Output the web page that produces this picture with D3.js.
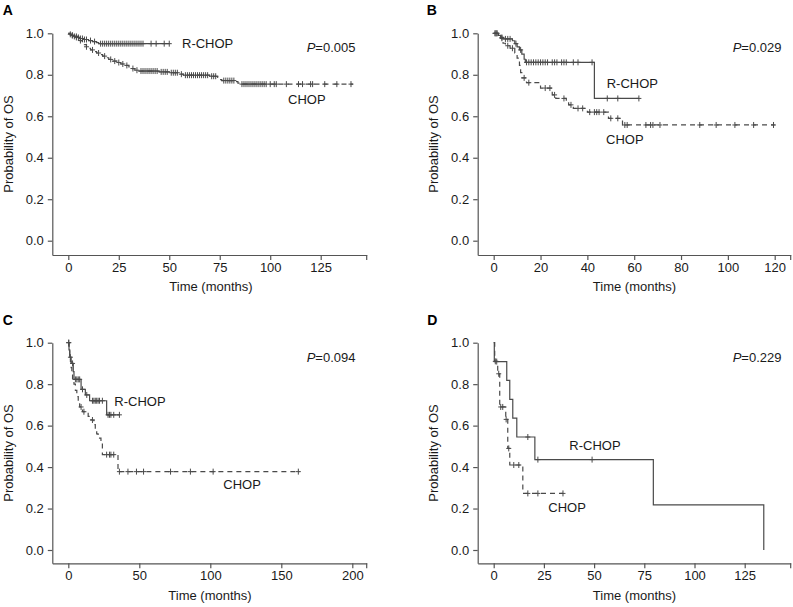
<!DOCTYPE html>
<html>
<head>
<meta charset="utf-8">
<script src="https://cdn.jsdelivr.net/npm/d3@7"></script>
<style>
  html, body { margin: 0; padding: 0; background: #fff; }
  svg { display: block; font-family: Arial, "Liberation Sans", Helvetica, sans-serif; }
</style>
</head>
<body>
<svg id="chart" width="793" height="607"></svg>
<script>
// ---------------- DATA ----------------
const yTickValues = [0, 0.2, 0.4, 0.6, 0.8, 1.0];
const panelLetters = ["A", "B", "C", "D"];
const pValues = ["0.005", "0.029", "0.094", "0.229"];
const xTicksA = [0, 25, 50, 75, 100, 125];
const xTicksB = [0, 20, 40, 60, 80, 100, 120];
const xTicksC = [0, 50, 100, 150, 200];
const xTicksD = [0, 25, 50, 75, 100, 125];
const seriesNames = ["R-CHOP", "CHOP"];

// Panel A
const aRchopTime = [0, 1, 2, 3, 5, 6, 8, 10, 12, 14, 15];
const aRchopSurv = [1, 0.995, 0.99, 0.985, 0.98, 0.975, 0.97, 0.965, 0.96, 0.955, 0.95];
const aRchopEnd = 50;
const aRchopCensor = [1, 2, 3, 4, 5, 6, 7, 8, 9, 11, 13, 16, 17, 18, 19, 20, 21, 22, 23, 24, 25, 26, 27, 28, 29, 30, 31, 32, 33, 34, 35, 36, 37, 41, 43.5, 47.5, 50];
const aChopTime = [0, 1, 2, 3, 4, 5, 6, 7, 8, 9, 10, 11, 13, 14, 16, 17, 19, 20, 22, 24, 26, 28, 30, 31, 33, 35, 45, 50, 55, 57, 70, 74, 75, 76, 83, 84, 85];
const aChopSurv = [1, 0.995, 0.99, 0.985, 0.98, 0.972, 0.965, 0.955, 0.945, 0.935, 0.928, 0.92, 0.912, 0.905, 0.897, 0.89, 0.882, 0.874, 0.866, 0.859, 0.852, 0.845, 0.838, 0.83, 0.822, 0.818, 0.814, 0.81, 0.803, 0.798, 0.793, 0.787, 0.777, 0.772, 0.767, 0.76, 0.755];
const aChopEnd = 141;
const aChopCensor = [2, 4, 6, 9, 12, 15, 18, 21, 23, 25, 27, 29, 32, 34, 36, 37, 38, 39, 40, 41, 42, 43, 44, 46, 47, 48, 49, 51, 52, 53, 54, 56, 58, 59, 60, 61, 62, 63, 64, 65, 66, 67, 68, 69, 71, 72, 73, 77, 78, 79, 80, 81, 82, 86, 87, 88, 89, 90, 91, 92, 93, 94, 95, 96, 97, 98, 100, 102, 103, 108, 114, 116, 120, 121, 127, 133, 140];

// Panel B
const bRchopTime = [0, 2, 3, 4, 8, 9, 10, 11, 12, 13, 13.5, 43];
const bRchopSurv = [1, 0.99, 0.98, 0.973, 0.964, 0.95, 0.935, 0.92, 0.9, 0.875, 0.86, 0.686];
const bRchopEnd = 62;
const bRchopCensor = [0.5, 1, 1.5, 3.5, 5, 6, 7, 9.5, 11.5, 14, 15, 16, 17, 18, 19, 20, 21, 22, 23, 25, 26, 27, 29, 30, 31, 34, 36, 42, 48.5, 53, 62];
const bChopTime = [0, 2, 3, 4, 5, 7, 9, 10, 11, 11.5, 12, 14, 20, 25, 26.5, 31, 32, 34, 40, 49, 55];
const bChopSurv = [1, 0.988, 0.976, 0.952, 0.94, 0.928, 0.905, 0.88, 0.845, 0.81, 0.785, 0.762, 0.736, 0.703, 0.686, 0.67, 0.655, 0.638, 0.62, 0.59, 0.558];
const bChopEnd = 120;
const bChopCensor = [1, 3.5, 6, 8, 13, 15, 22, 24, 26, 30, 33, 36, 38, 41, 43, 44, 45, 47, 50, 53, 56, 57, 65, 67, 68, 71, 88, 95, 103, 111, 119.5];

// Panel C
const cRchopTime = [0, 0.5, 1, 2, 3.5, 4, 9, 12, 15, 27];
const cRchopSurv = [1, 0.965, 0.93, 0.9, 0.86, 0.823, 0.775, 0.748, 0.72, 0.652];
const cRchopEnd = 36;
const cRchopCensor = [0.3, 1.5, 3, 5, 6, 7, 8, 10, 13, 17, 18, 19, 20, 21, 22, 24, 28, 29, 30, 32, 36];
const cChopTime = [0, 0.5, 1, 1.5, 2, 2.5, 3, 4, 5, 6, 7, 8, 10, 14, 16, 18, 19, 20, 21, 23, 24, 35];
const cChopSurv = [1, 0.97, 0.94, 0.91, 0.88, 0.85, 0.82, 0.8, 0.77, 0.74, 0.715, 0.69, 0.667, 0.645, 0.627, 0.605, 0.58, 0.56, 0.54, 0.52, 0.46, 0.378];
const cChopEnd = 163;
const cChopCensor = [0.3, 9, 11, 17, 27, 29, 30, 32, 36, 42, 48, 53, 72, 86, 102, 162];

// Panel D
const dRchopTime = [0, 0.3, 6.5, 8, 9.5, 11.5, 20.5, 79.5, 134.5];
const dRchopSurv = [1, 0.909, 0.818, 0.727, 0.636, 0.545, 0.436, 0.218, 0];
const dRchopEnd = 134.5;
const dRchopCensor = [1.5, 17, 22, 49];
const dChopTime = [0, 0.5, 2, 3, 6, 7, 8, 14.5];
const dChopSurv = [1, 0.91, 0.85, 0.69, 0.63, 0.49, 0.41, 0.273];
const dChopEnd = 34.5;
const dChopCensor = [0.8, 2.5, 3.5, 4.5, 6.2, 7.5, 10, 12.5, 17, 22, 34.5];

// ---------------- LAYOUT ----------------
const panels = [
  { letter: panelLetters[0], p: pValues[0], xTicks: xTicksA,
    axL: 52.3, axR: 366.7, x0px: 68.3, xTpx: 320.7, top: 33.3, y0px: 240.7, axB: 255,
    letterPos: [2.7, 15], pPos: [306.7, 51.7], xTitle: [211, 291], yTitle: [12.5, 144],
    lab: [[182, 48.3], [288, 104]],
    series: [
      { t: aRchopTime, s: aRchopSurv, end: aRchopEnd, c: aRchopCensor, dash: null },
      { t: aChopTime, s: aChopSurv, end: aChopEnd, c: aChopCensor, dash: "5,4" } ] },
  { letter: panelLetters[1], p: pValues[1], xTicks: xTicksB,
    axL: 477.7, axR: 790.7, x0px: 493.7, xTpx: 774.7, top: 33.3, y0px: 240.7, axB: 255,
    letterPos: [426.7, 15], pPos: [732.7, 51.7], xTitle: [634.5, 291], yTitle: [437.5, 144],
    lab: [[606.7, 88.3], [606, 144]],
    series: [
      { t: bRchopTime, s: bRchopSurv, end: bRchopEnd, c: bRchopCensor, dash: null },
      { t: bChopTime, s: bChopSurv, end: bChopEnd, c: bChopCensor, dash: "5,4" } ] },
  { letter: panelLetters[2], p: pValues[2], xTicks: xTicksC,
    axL: 52.3, axR: 366.7, x0px: 68.3, xTpx: 352.3, top: 342.7, y0px: 550, axB: 563.3,
    letterPos: [2.7, 325], pPos: [306.7, 361.7], xTitle: [210, 599.5], yTitle: [12.5, 453],
    lab: [[114.3, 406], [223.3, 489.3]],
    series: [
      { t: cRchopTime, s: cRchopSurv, end: cRchopEnd, c: cRchopCensor, dash: null },
      { t: cChopTime, s: cChopSurv, end: cChopEnd, c: cChopCensor, dash: "5,4" } ] },
  { letter: panelLetters[3], p: pValues[3], xTicks: xTicksD,
    axL: 477.7, axR: 790.7, x0px: 493.7, xTpx: 744.7, top: 342.7, y0px: 550, axB: 563.3,
    letterPos: [427.3, 325], pPos: [732.7, 361.7], xTitle: [634.5, 599.5], yTitle: [437.5, 453],
    lab: [[569.3, 450], [548.3, 511.7]],
    series: [
      { t: dRchopTime, s: dRchopSurv, end: dRchopEnd, c: dRchopCensor, dash: null },
      { t: dChopTime, s: dChopSurv, end: dChopEnd, c: dChopCensor, dash: "5,4" } ] }
];

const svg = d3.select("#chart");
const axisColor = "#555";
const lineColor = "#4a4a4a";
const textColor = "#1a1a1a";

panels.forEach(P => {
  const g = svg.append("g");
  const lastTick = P.xTicks[P.xTicks.length - 1];
  // x scale: build from tick positions, then extend to axis ends
  const xb = d3.scaleLinear().domain([0, lastTick]).range([P.x0px, P.xTpx]);
  const x = d3.scaleLinear().domain([xb.invert(P.axL), xb.invert(P.axR)]).range([P.axL, P.axR]);
  const yb = d3.scaleLinear().domain([0, 1]).range([P.y0px, P.top]);
  const y = d3.scaleLinear().domain([yb.invert(P.axB), 1]).range([P.axB, P.top]);

  // x axis
  const xa = g.append("g").attr("transform", `translate(0,${P.axB})`)
    .call(d3.axisBottom(x).tickValues(P.xTicks).tickSizeInner(5).tickSizeOuter(0).tickPadding(2.5)
      .tickFormat(d3.format("d")));
  xa.append("line").attr("x1", P.axR).attr("x2", P.axR).attr("y1", 0).attr("y2", 5);
  // y axis
  const ya = g.append("g").attr("transform", `translate(${P.axL},0)`)
    .call(d3.axisLeft(y).tickValues(yTickValues).tickSizeInner(4.5).tickSizeOuter(0).tickPadding(4)
      .tickFormat(d3.format(".1f")));
  [xa, ya].forEach(a => {
    a.select(".domain").attr("stroke", axisColor).attr("stroke-width", 1.2);
    a.selectAll("line").attr("stroke", axisColor).attr("stroke-width", 1.2);
    a.selectAll("text").attr("fill", textColor).style("font-size", "13px")
      .style("font-family", "Arial, 'Liberation Sans', sans-serif");
  });

  // curves
  P.series.forEach(S => {
    const pts = S.t.map((t, i) => [t, S.s[i]]);
    pts.push([S.end, S.s[S.s.length - 1]]);
    const line = d3.line().x(d => x(d[0])).y(d => y(d[1])).curve(d3.curveStepAfter);
    g.append("path").attr("d", line(pts)).attr("fill", "none")
      .attr("stroke", lineColor).attr("stroke-width", 1.2)
      .attr("stroke-dasharray", S.dash);
    const survAt = t => {
      const i = d3.bisectRight(S.t, t) - 1;
      return S.s[Math.max(0, i)];
    };
    const cg = g.append("g").attr("stroke", lineColor).attr("stroke-width", 1);
    S.c.forEach(t => {
      const cx = x(t), cy = y(survAt(t));
      cg.append("line").attr("x1", cx).attr("x2", cx).attr("y1", cy - 3).attr("y2", cy + 3);
      cg.append("line").attr("x1", cx - 2.5).attr("x2", cx + 2.5).attr("y1", cy).attr("y2", cy);
    });
  });

  // texts
  g.append("text").attr("x", P.letterPos[0]).attr("y", P.letterPos[1])
    .attr("fill", "#000").style("font-size", "14px").style("font-weight", "bold").text(P.letter);
  const pt = g.append("text").attr("x", P.pPos[0]).attr("y", P.pPos[1])
    .attr("fill", textColor).style("font-size", "13px");
  pt.append("tspan").style("font-style", "italic").text("P");
  pt.append("tspan").text("=" + P.p);
  g.append("text").attr("x", P.xTitle[0]).attr("y", P.xTitle[1]).attr("text-anchor", "middle")
    .attr("fill", textColor).style("font-size", "13px").text("Time (months)");
  g.append("text").attr("transform", `translate(${P.yTitle[0]},${P.yTitle[1]}) rotate(-90)`)
    .attr("text-anchor", "middle").attr("fill", textColor).style("font-size", "13px")
    .text("Probability of OS");
  seriesNames.forEach((n, i) => {
    g.append("text").attr("x", P.lab[i][0]).attr("y", P.lab[i][1])
      .attr("fill", textColor).style("font-size", "13px").text(n);
  });
});
</script>
</body>
</html>
